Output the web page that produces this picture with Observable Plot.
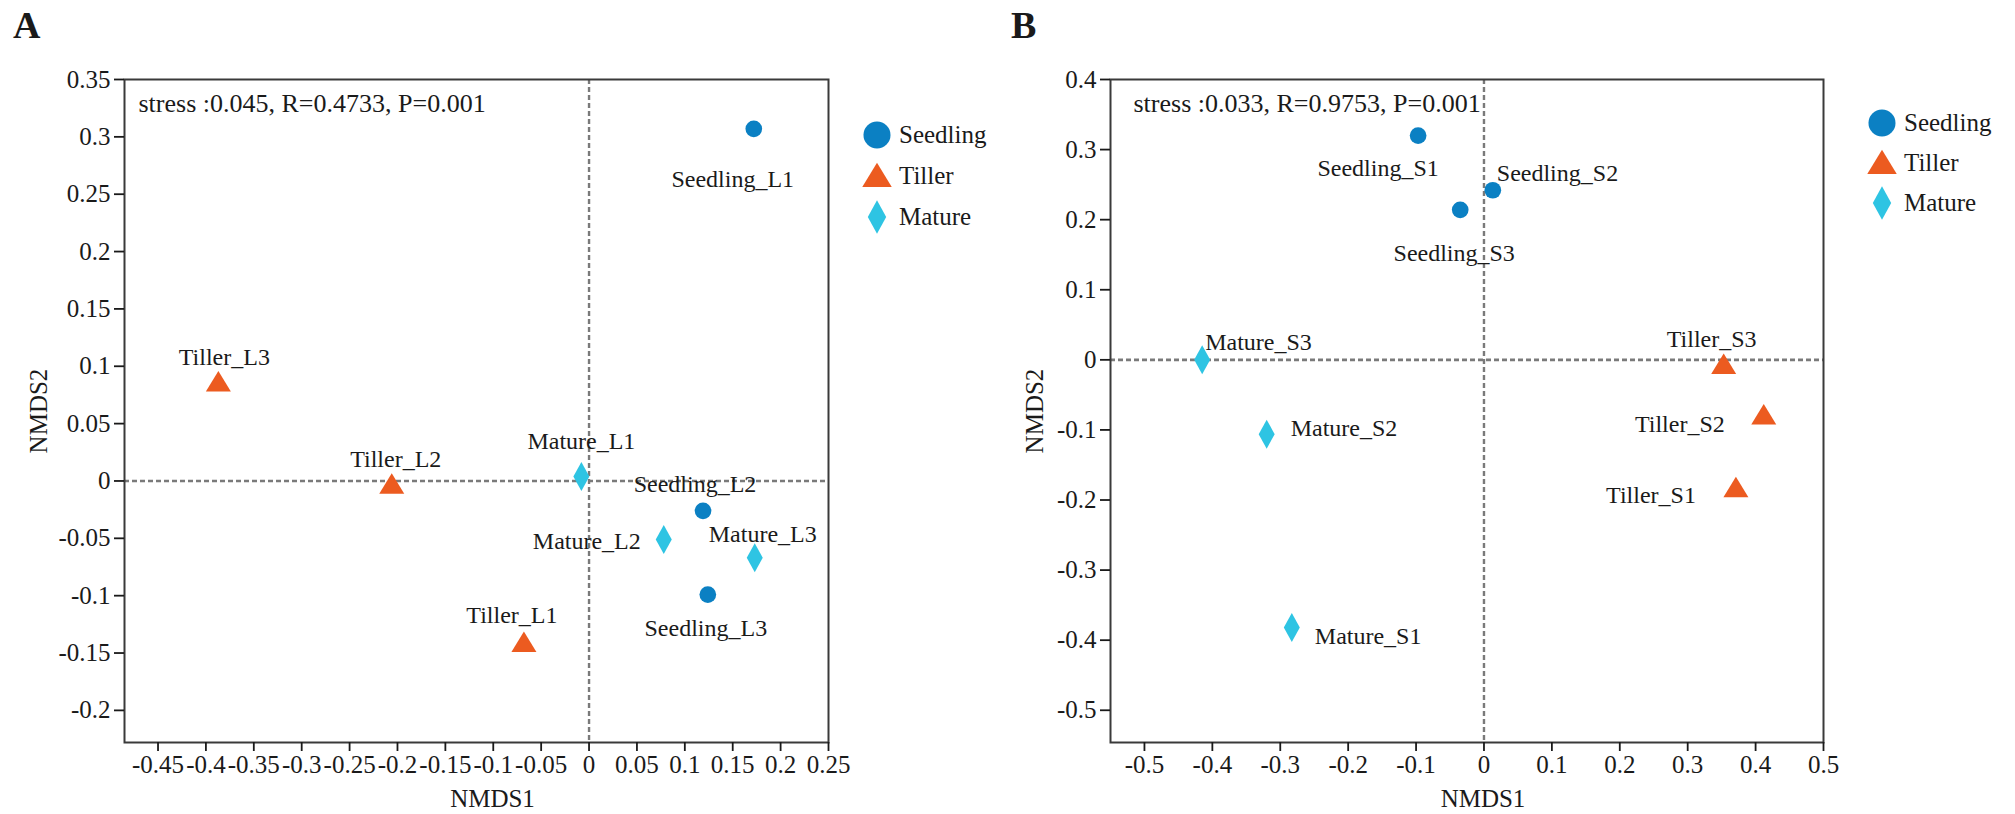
<!DOCTYPE html>
<html>
<head>
<meta charset="utf-8">
<script src="https://cdn.jsdelivr.net/npm/d3@7"></script>
<script src="https://cdn.jsdelivr.net/npm/@observablehq/plot@0.6"></script>
<style>
  body { margin: 0; background: #fff; }
  #wrap { position: relative; width: 2015px; height: 814px; background: #fff;
          font-family: "Liberation Serif", "Times New Roman", serif; color: #1a1a1a; overflow: hidden; }
  .panel { position: absolute; top: 0; }
  .letter { position: absolute; font-weight: bold; font-size: 38px; line-height: 1; }
  .legend { position: absolute; }
  .legrow { position: absolute; display: flex; align-items: center; white-space: nowrap; font-size: 25px; }
  .legrow svg { display: block; overflow: visible; }
</style>
</head>
<body>
<div id="wrap"></div>
<script>
// ---------------- data ----------------
const groups = ["Seedling", "Tiller", "Mature"];
const colors = ["#0b80c3", "#ec5b20", "#2ec4e3"];

// Panel A
const namesA = ["Seedling_L1", "Seedling_L2", "Seedling_L3",
                "Tiller_L1", "Tiller_L2", "Tiller_L3",
                "Mature_L1", "Mature_L2", "Mature_L3"];
const nmds1A = [0.172, 0.119, 0.124, -0.068, -0.206, -0.387, -0.008, 0.078, 0.173];
const nmds2A = [0.307, -0.026, -0.099, -0.141, -0.003, 0.086, 0.004, -0.051, -0.067];
const xTicksA = [-0.45, -0.4, -0.35, -0.3, -0.25, -0.2, -0.15, -0.1, -0.05, 0, 0.05, 0.1, 0.15, 0.2, 0.25];
const yTicksA = [0.35, 0.3, 0.25, 0.2, 0.15, 0.1, 0.05, 0, -0.05, -0.1, -0.15, -0.2];
const stressA = "stress :0.045, R=0.4733, P=0.001";

// Panel B
const namesB = ["Seedling_S1", "Seedling_S2", "Seedling_S3",
                "Tiller_S1", "Tiller_S2", "Tiller_S3",
                "Mature_S1", "Mature_S2", "Mature_S3"];
const nmds1B = [-0.097, 0.013, -0.035, 0.371, 0.412, 0.353, -0.283, -0.320, -0.415];
const nmds2B = [0.320, 0.242, 0.214, -0.183, -0.079, -0.007, -0.382, -0.106, 0.000];
const xTicksB = [-0.5, -0.4, -0.3, -0.2, -0.1, 0, 0.1, 0.2, 0.3, 0.4, 0.5];
const yTicksB = [0.4, 0.3, 0.2, 0.1, 0, -0.1, -0.2, -0.3, -0.4, -0.5];
const stressB = "stress :0.033, R=0.9753, P=0.001";

const xTitle = "NMDS1";
const yTitle = "NMDS2";
const refLines = [0];

// ---------------- layout / style ----------------
const W = 2015, H = 814;
const labelPlaceA = {
  Seedling_L1: [-21, 50, "middle"], Seedling_L2: [-8, -26, "middle"], Seedling_L3: [-2, 34, "middle"],
  Tiller_L1: [-12, -27, "middle"], Tiller_L2: [4, -25, "middle"], Tiller_L3: [6, -25, "middle"],
  Mature_L1: [0, -35, "middle"], Mature_L2: [-23, 2, "end"], Mature_L3: [8, -24, "middle"]
};
const labelPlaceB = {
  Seedling_S1: [-40, 33, "middle"], Seedling_S2: [4, -17, "start"], Seedling_S3: [-6, 43, "middle"],
  Tiller_S1: [-40, 7, "end"], Tiller_S2: [-39, 9, "end"], Tiller_S3: [-12, -25, "middle"],
  Mature_S1: [23, 9, "start"], Mature_S2: [24, -6, "start"], Mature_S3: [3, -18, "start"]
};

// custom symbols: base dims for r = 8.35
const BASE_R = 8.35;
function kOf(size) { return Math.sqrt(size / Math.PI) / BASE_R; }
const symCircle = { draw(ctx, size) { const r = BASE_R * kOf(size); ctx.moveTo(r, 0); ctx.arc(0, 0, r, 0, 2 * Math.PI); ctx.closePath(); } };
const symTriangle = { draw(ctx, size) { const k = kOf(size), w = 25 * k, h = 20.5 * k;
  ctx.moveTo(0, -0.55 * h); ctx.lineTo(w / 2, 0.45 * h); ctx.lineTo(-w / 2, 0.45 * h); ctx.closePath(); } };
const symDiamond = { draw(ctx, size) { const k = kOf(size), w = 16 * k, h = 29 * k;
  ctx.moveTo(0, -h / 2); ctx.lineTo(w / 2, 0); ctx.lineTo(0, h / 2); ctx.lineTo(-w / 2, 0); ctx.closePath(); } };
const symbols = [symCircle, symTriangle, symDiamond];
const legendScale = [1.62, 1.18, 1.15];

function rowsOf(names, xs, ys) {
  return names.map((n, i) => ({ name: n, group: n.split("_")[0], x: xs[i], y: ys[i] }));
}

function panel(o) {
  const rows = rowsOf(o.names, o.xs, o.ys);
  const labelMarks = o.names.map(n => {
    const [dx, dy, anchor] = o.place[n];
    return Plot.text(rows.filter(d => d.name === n), {
      x: "x", y: "y", text: "name", dx, dy, textAnchor: anchor, lineAnchor: "middle",
      fontSize: 24, fill: "#1a1a1a"
    });
  });
  return Plot.plot({
    width: o.width, height: H,
    marginLeft: o.ml, marginRight: o.mr, marginTop: 79, marginBottom: 72,
    style: { fontFamily: "'Liberation Serif', 'Times New Roman', serif", fontSize: "25px", color: "#1a1a1a", background: "transparent", overflow: "visible" },
    x: { domain: o.xDomain },
    y: { domain: o.yDomain },
    color: { domain: groups, range: colors },
    symbol: { domain: groups, range: symbols },
    marks: [
      Plot.ruleX(refLines, { stroke: "#7a7a7a", strokeWidth: 2.4, strokeDasharray: "5,3" }),
      Plot.ruleY(refLines, { stroke: "#7a7a7a", strokeWidth: 2.6, strokeDasharray: "5,3" }),
      Plot.frame({ stroke: "#3a3a3a", strokeWidth: 2 }),
      Plot.axisX({ ticks: o.xTicks, tickFormat: d => String(d), tickSize: 9, tickPadding: 4, fontSize: 25, strokeWidth: 1.8, label: null }),
      Plot.axisY({ ticks: o.yTicks, tickFormat: d => String(d), tickSize: 10, tickPadding: 4, fontSize: 25, strokeWidth: 1.8, label: null }),
      Plot.text([xTitle], { frameAnchor: "bottom", text: d => d, dx: 16, dy: 56, lineAnchor: "middle", textAnchor: "middle", fontSize: 25 }),
      Plot.text([yTitle], { frameAnchor: "left", text: d => d, rotate: -90, dx: o.yTitleDx, lineAnchor: "middle", textAnchor: "middle", fontSize: 25 }),
      Plot.text([o.stress], { frameAnchor: "top-left", text: d => d, dx: o.stressDx, dy: 24, lineAnchor: "middle", textAnchor: "start", fontSize: 26 }),
      Plot.dot(rows, { x: "x", y: "y", symbol: "group", fill: "group", stroke: "none", r: BASE_R }),
      ...labelMarks
    ]
  });
}

const wrap = document.getElementById("wrap");

function addPanel(left, o) {
  const div = document.createElement("div");
  div.className = "panel";
  div.style.left = left + "px";
  div.appendChild(panel(o));
  wrap.appendChild(div);
}

addPanel(0, {
  names: namesA, xs: nmds1A, ys: nmds2A, width: 1000, ml: 124, mr: 172,
  xDomain: [-0.485, 0.25], yDomain: [-0.228, 0.35], xTicks: xTicksA, yTicks: yTicksA,
  stress: stressA, stressDx: 14, yTitleDx: -86, place: labelPlaceA
});
addPanel(1000, {
  names: namesB, xs: nmds1B, ys: nmds2B, width: 1015, ml: 110, mr: 192,
  xDomain: [-0.55, 0.5], yDomain: [-0.546, 0.4], xTicks: xTicksB, yTicks: yTicksB,
  stress: stressB, stressDx: 23, yTitleDx: -76, place: labelPlaceB
});

// panel letters
[["A", 13, 6], ["B", 1011, 6]].forEach(([t, x, y]) => {
  const d = document.createElement("div");
  d.className = "letter"; d.textContent = t;
  d.style.left = x + "px"; d.style.top = y + "px";
  wrap.appendChild(d);
});

// legends
function addLegend(symX, top0, step) {
  groups.forEach((g, i) => {
    const row = document.createElement("div");
    row.className = "legrow";
    const cy = top0 + i * step;
    row.style.left = (symX - 20) + "px";
    row.style.top = (cy - 20) + "px";
    row.style.height = "40px";
    const size = Math.PI * (BASE_R * legendScale[i]) ** 2;
    const path = d3.symbol(symbols[i], size)();
    const svg = d3.create("svg").attr("width", 40).attr("height", 40);
    svg.append("path").attr("d", path).attr("transform", "translate(20,20)").attr("fill", colors[i]);
    row.appendChild(svg.node());
    const span = document.createElement("span");
    span.textContent = g;
    span.style.marginLeft = "2px";
    row.appendChild(span);
    wrap.appendChild(row);
  });
}
addLegend(877, 135, 41);
addLegend(1882, 123, 40);
</script>
</body>
</html>
